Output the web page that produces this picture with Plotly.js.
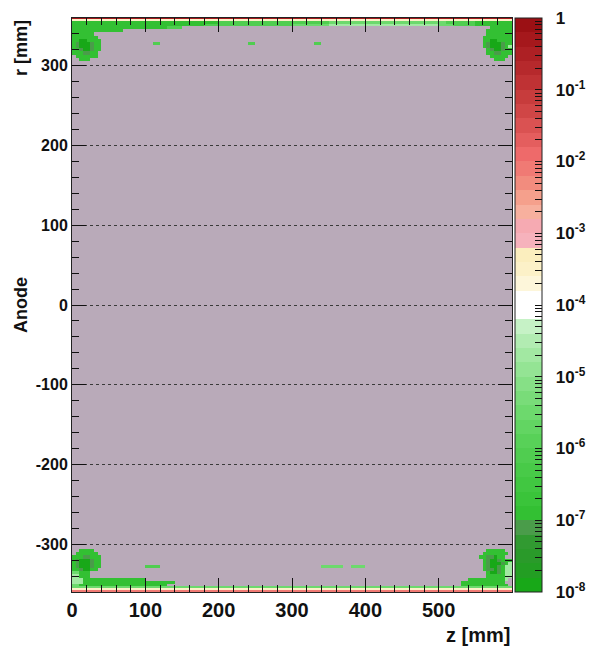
<!DOCTYPE html>
<html><head><meta charset="utf-8">
<script src="https://cdn.plot.ly/plotly-3.0.1.min.js"></script>
<style>html,body{margin:0;padding:0;background:#fff}#chart{width:593px;height:647px}</style>
</head><body><div id="chart"></div>
<script>
// cell edges along z (mm) and r (mm)
const zEdges = [0,5,10,15,20,25,30,35,40,45,50,
  60,70,80,90,100,110,120,130,140,150,160,170,180,190,200,210,220,230,240,250,
  260,270,280,290,300,310,320,330,340,350,360,370,380,390,400,410,420,430,440,450,
  460,470,480,490,500,510,520,530,540,
  550,555,560,565,570,575,580,585,590,595,600];
const rEdges = [-360,-358,-355.5,-353,-350,-346,-342,-338,-334,-330,-326,-322,-318,-314,-310,-306,-302,
  302,306,310,314,318,322,326,330,334,338,342,346,350,353,356,358.5,360];

// level codes -> log10(value)
const levelCodes  = ['R','o','y','a','b','c','d','e','f','g'];
const levelValues = [-0.3,-2.1,-3.5,-4.3,-4.7,-5.5,-6.1,-6.9,-7.1,-7.9];

// field rows, top (r=+360) to bottom (r=-360); chunks: z 0-50 | 50-150 | 150-250 | 250-350 | 350-450 | 450-550 | 550-600
const N = '..........';
const fieldRows = [
  ['RRRRRRRRRR','RRRRRRRRRR','RRRRRRRRRR','RRRRRRRRRR','RRRRRRRRRR','RRRRRRRRRR','RRRRRRRRRR'],
  ['yyyyyyyyyy','yyyyyyyyyy','yyyyyyyyyy','yyyyyyyyyy','yyyyyyyyyy','yyyyyyyyyy','yyyyyyyyyy'],
  ['eeeeeeeeee','eeeeeeeeee','eeeeeddddd','dddddddddd','cccccccccc','ccccccdddd','eeeeeeeeee'],
  ['eeeeeeeeee','eeeeeeeeee','eeeddddddd','dddddccccc','bbbbbbbbbb','bbbbbccddd','eeeeeeeeee'],
  ['eeeeeeeeee','eeeeeeeedd',N,N,N,N,'....eeeeee'],
  ['eeeeeeeeee','ee........',N,N,N,N,'...eeeeeee'],
  ['eeeeee....',N,N,N,N,N,'...eeeeeee'],
  ['eeeeeee...',N,N,N,N,N,'..eeeeeeee'],
  ['eeggeeee..',N,N,N,N,N,'..eeggeeee'],
  ['efgggfee..','......d...','.........d','........d.',N,N,'..efgggfee'],
  ['efgggfee..',N,N,N,N,N,'..efgggfeb'],
  ['eefggfee..',N,N,N,N,N,'...efggfee'],
  ['eeeffee...',N,N,N,N,N,'...eeffeee'],
  ['.eeeeee...',N,N,N,N,N,'....eeeee.'],
  ['..eee.....',N,N,N,N,N,'.....eee..'],
  [N,N,N,N,N,N,N],
  [N,N,N,N,N,N,N],
  [N,N,N,N,N,N,N],
  ['..eeee....',N,N,N,N,N,'...eeeee..'],
  ['.eeeeee...',N,N,N,N,N,'..eeeeeee.'],
  ['eeeffeee..',N,N,N,N,N,'.eeffgee..'],
  ['efgggfee..',N,N,N,N,N,'..efggfeee'],
  ['efgggfee..',N,N,N,N,N,'..efgggfeb'],
  ['efgggfee..','.....dd...',N,'.........c','cc.cc.....',N,'..efggfebb'],
  ['eefggee...',N,N,N,N,N,'..effgfebb'],
  ['cceee.....',N,N,N,N,N,'...eggfebb'],
  ['bbeee.....',N,N,N,N,N,'...eeeeebb'],
  ['bbbeeeeeee','eeeee.....',N,N,N,'.........e','eeeeeeeeb.'],
  ['bbbeeeeeee','eeeeeeeee.',N,N,N,'........ee','eeeeeeee..'],
  ['cceeeeeeee','eeeeeeee..',N,N,N,'........ee','eeeeeeeee.'],
  ['cccccccccc','cccccccccc','cccccccccc','cccccccccc','cccccccccc','cccccccccc','cccccccccc'],
  ['yyyyyyyyyy','yyyyyyyyyy','yyyyyyyyyy','yyyyyyyyyy','yyyyyyyyyy','yyyyyyyyyy','yyyyyyyyyy'],
  ['oooooooooo','oooooooooo','oooooooooo','oooooooooo','oooooooooo','oooooooooo','oooooooooo']
];

// palette bands, log10 from -8 (first) to 0 (last), 0.2 decade each
const bandColors = [
  '#18a818','#239e23','#2a9a2a','#319a31','#4a9c4a',
  '#33c033','#3ac43a','#41c741','#48ca48','#50cd50',
  '#58d158','#62d562','#6dd96d','#79dc79','#86e086',
  '#94e494','#a2e8a2','#b2ecb2','#c6f2c6','#ffffff',
  '#ffffff','#fdf6da','#fcf1c8','#fbeebe','#f6b2bc',
  '#f6aab2','#f7b09e','#f5a08c','#f28c7e','#f07a74',
  '#ee6a6a','#e45e5e','#da5252','#d04646','#c73c3c',
  '#bf3234','#b6292c','#ad2024','#a5181c','#9b1014'
];

const cbMajorVals = [0,-1,-2,-3,-4,-5,-6,-7,-8];
const cbMajorText = ['1','10<sup>-1</sup>','10<sup>-2</sup>','10<sup>-3</sup>','10<sup>-4</sup>','10<sup>-5</sup>','10<sup>-6</sup>','10<sup>-7</sup>','10<sup>-8</sup>'];
const xTickVals = [0,100,200,300,400,500];
const xTickText = ['0','100','200','300','400','500'];
const yTickVals = [-300,-200,-100,0,100,200,300];
const yTickText = ['-300','-200','-100','0','100','200','300'];

// build matrix
const zRowsTopDown = fieldRows.map(ch => ch.join('').split('').map(c => c === '.' ? null : levelValues[levelCodes.indexOf(c)]));
const zMatrix = zRowsTopDown.slice().reverse();

const colorscale = [];
bandColors.forEach((c, i) => { colorscale.push([i / bandColors.length, c]); colorscale.push([(i + 1) / bandColors.length, c]); });

const PAD = '\u00a0\u00a0';
const cbVals = cbMajorVals.slice(), cbText = cbMajorText.map(t => PAD + t);
for (let n = -8; n < 0; n++) { for (let k = 2; k <= 9; k++) { cbVals.push(n + Math.log10(k)); cbText.push(' '); } }

const FONT = 'Liberation Sans, Arial, Helvetica, sans-serif';

const trace = {
  type: 'heatmap', x: zEdges, y: rEdges, z: zMatrix,
  zmin: -8, zmax: 0, colorscale: colorscale, zsmooth: false, hoverinfo: 'skip',
  colorbar: {
    x: 1.007, xanchor: 'left', xpad: 0, ypad: 0, y: 0.5, yanchor: 'middle', len: 1,
    thickness: 27, outlinewidth: 1, outlinecolor: '#222',
    ticks: 'inside', ticklen: 7, tickcolor: '#111', tickwidth: 1,
    tickmode: 'array', tickvals: cbVals, ticktext: cbText,
    tickfont: {family: FONT, size: 17, weight: 'bold', color: '#111'}
  }
};

const layout = {
  width: 593, height: 647,
  margin: {l: 72, r: 81, t: 18, b: 55, autoexpand: false},
  paper_bgcolor: '#ffffff', plot_bgcolor: '#b9aab9',
  showlegend: false,
  xaxis: {
    range: [0, 600], tickmode: 'array', tickvals: xTickVals, ticktext: xTickText,
    ticks: 'inside', ticklen: 14, tickcolor: '#111', tickwidth: 1,
    minor: {tickmode: 'linear', tick0: 0, dtick: 20, ticks: 'inside', ticklen: 7, tickcolor: '#111', showgrid: false},
    showline: true, linecolor: '#222', linewidth: 1, mirror: 'ticks',
    showgrid: false, zeroline: false, automargin: false,
    tickfont: {family: FONT, size: 20, weight: 'bold', color: '#111'}
  },
  yaxis: {
    range: [-360, 360], tickmode: 'array', tickvals: yTickVals, ticktext: yTickText,
    ticks: 'inside', ticklen: 14, tickcolor: '#111', tickwidth: 1,
    minor: {tickmode: 'linear', tick0: 0, dtick: 20, ticks: 'inside', ticklen: 7, tickcolor: '#111', showgrid: false},
    showline: true, linecolor: '#222', linewidth: 1, mirror: 'ticks',
    showgrid: true, gridcolor: '#3a3a3a', griddash: 'dot', gridwidth: 1, zeroline: false, automargin: false,
    tickfont: {family: FONT, size: 16, weight: 'bold', color: '#111'}
  },
  annotations: [
    {text: 'r [mm]', xref: 'paper', yref: 'paper', x: -0.116, y: 1, xanchor: 'center', yanchor: 'top', textangle: -90, showarrow: false,
     font: {family: FONT, size: 18, weight: 'bold', color: '#111'}},
    {text: 'Anode', xref: 'paper', yref: 'paper', x: -0.116, y: 0.5, xanchor: 'center', yanchor: 'middle', textangle: -90, showarrow: false,
     font: {family: FONT, size: 18, weight: 'bold', color: '#111'}},
    {text: 'z [mm]', xref: 'paper', yref: 'paper', x: 1, y: -0.075, xanchor: 'right', yanchor: 'middle', showarrow: false,
     font: {family: FONT, size: 20, weight: 'bold', color: '#111'}}
  ]
};

Plotly.newPlot('chart', [trace], layout, {displayModeBar: false, staticPlot: true});
</script>
</body></html>
